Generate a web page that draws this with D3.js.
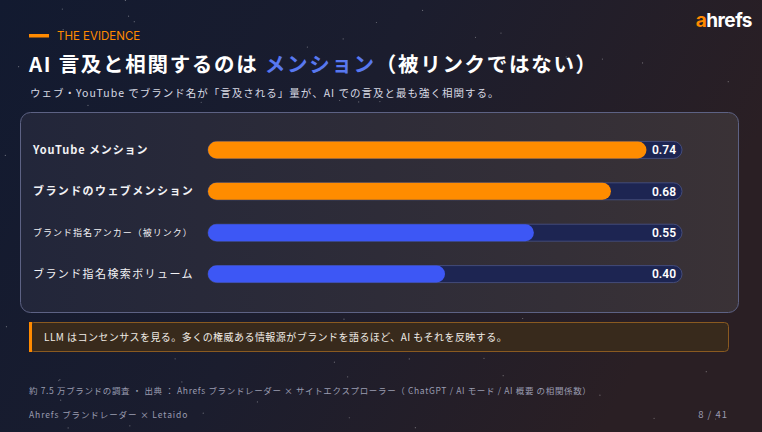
<!DOCTYPE html>
<html><head><meta charset="utf-8">
<script src="https://cdn.jsdelivr.net/npm/d3@7"></script>
<style>
html,body{margin:0;padding:0;background:#151a2c;}
svg{display:block;font-family:"Noto Sans CJK JP","Noto Sans",sans-serif;}
</style></head><body>
<svg id="c" width="762" height="432"></svg>
<script>
const categories = ["YouTube メンション","ブランドのウェブメンション","ブランド指名アンカー（被リンク）","ブランド指名検索ボリューム"];
const values = [0.74, 0.68, 0.55, 0.40];
const valueLabels = ["0.74","0.68","0.55","0.40"];
const seriesGroup = ["mention","mention","link","link"];
const domainMax = 0.8;

const svg = d3.select("#c");
const defs = svg.append("defs");
const bg = defs.append("linearGradient").attr("id","bg").attr("x1","0").attr("y1","0").attr("x2","1").attr("y2","0.3");
bg.append("stop").attr("offset","0").attr("stop-color","#121a30");
bg.append("stop").attr("offset","0.5").attr("stop-color","#1b1d2e");
bg.append("stop").attr("offset","1").attr("stop-color","#2a1f24");
svg.append("rect").attr("width",762).attr("height",432).attr("fill","url(#bg)");

const panelG = defs.append("linearGradient").attr("id","pg").attr("x1","0").attr("y1","0").attr("x2","1").attr("y2","0");
panelG.append("stop").attr("offset","0").attr("stop-color","#22263a");
panelG.append("stop").attr("offset","1").attr("stop-color","#3a3236");

// stars (deterministic texture)
const starG = svg.append("g");
let s = 7;
for (let i=0;i<90;i++){ s=(s*9301+49297)%233280; const sx=s/233280*762; s=(s*9301+49297)%233280; const sy=s/233280*432;
  starG.append("circle").attr("cx",sx).attr("cy",sy).attr("r",0.6).attr("fill","#ffffff").attr("opacity",0.35);}

// header
svg.append("rect").attr("x",29).attr("y",34).attr("width",20).attr("height",3.5).attr("fill","#ff8a00");
svg.append("text").attr("x",57).attr("y",40).attr("fill","#ff8a00").attr("font-size",11.5).attr("font-family","Inter,'Noto Sans',sans-serif").text("THE EVIDENCE");
const t = svg.append("text").attr("x",29).attr("y",72).attr("font-size",20.5).attr("font-weight","bold").attr("fill","#ffffff").attr("letter-spacing",1.7);
t.append("tspan").text("AI 言及と相関するのは ");
t.append("tspan").attr("fill","#5878f0").text("メンション");
t.append("tspan").text("（被リンクではない）");
svg.append("text").attr("x",30).attr("y",97).attr("font-size",10.5).attr("fill","#d8dae4").attr("letter-spacing",1).text("ウェブ・YouTube でブランド名が「言及される」量が、AI での言及と最も強く相関する。");
const logo = svg.append("text").attr("x",752).attr("y",27).attr("text-anchor","end").attr("font-size",19).attr("font-weight","bold").attr("font-family","Inter,'Noto Sans',sans-serif").attr("fill","#ffffff").attr("letter-spacing",-0.5);
logo.append("tspan").attr("fill","#ff8a00").text("a");
logo.append("tspan").text("hrefs");

// panel
svg.append("rect").attr("x",20.5).attr("y",112.5).attr("width",718).attr("height",200).attr("rx",10)
  .attr("fill","url(#pg)").attr("stroke","#5d6284").attr("stroke-width",1);

const x = d3.scaleLinear().domain([0, domainMax]).range([208, 682]);
const y = d3.scaleBand().domain(categories).range([129, 295]).paddingInner(0.59).paddingOuter(0.3);
const colors = {mention:"#ff8c00", link:"#3d57f5"};
const labelStyle = [{fs:11,fw:"bold",ls:0.9},{fs:11,fw:"bold",ls:1.4},{fs:9,fw:"normal",ls:1},{fs:11,fw:"normal",ls:1.4}];

const rows = svg.append("g").selectAll("g").data(categories).join("g");
rows.append("rect").attr("x",x(0)).attr("y",d=>y(d)).attr("width",x(domainMax)-x(0)).attr("height",y.bandwidth())
  .attr("rx",y.bandwidth()/2).attr("fill","#1d2552").attr("stroke","#4a5488").attr("stroke-width",0.8);
rows.append("rect").attr("x",x(0)).attr("y",(d)=>y(d)).attr("width",(d,i)=>x(values[i])-x(0)).attr("height",y.bandwidth())
  .attr("rx",y.bandwidth()/2).attr("fill",(d,i)=>colors[seriesGroup[i]]);
rows.append("text").attr("x",x(domainMax)-6).attr("y",d=>y(d)+y.bandwidth()/2).attr("dy","0.36em").attr("text-anchor","end")
  .attr("fill","#ffffff").attr("font-size",12).attr("font-weight",600).attr("font-family","Roboto,'Noto Sans',sans-serif").text((d,i)=>valueLabels[i]);
rows.append("text").attr("x",33).attr("y",d=>y(d)+y.bandwidth()/2).attr("dy","0.36em")
  .attr("fill","#f2f2f5").attr("font-size",(d,i)=>labelStyle[i].fs).attr("font-weight",(d,i)=>labelStyle[i].fw)
  .attr("letter-spacing",(d,i)=>labelStyle[i].ls).text(d=>d);

// callout
svg.append("rect").attr("x",29.5).attr("y",322.5).attr("width",699).attr("height",29).attr("rx",4)
  .attr("fill","#382a1c").attr("stroke","#8a5a20").attr("stroke-width",1);
svg.append("rect").attr("x",29).attr("y",322).attr("width",3).attr("height",30).attr("fill","#ff8a00");
svg.append("text").attr("x",44).attr("y",341).attr("font-size",10).attr("fill","#f0ece6").attr("letter-spacing",0.45).text("LLM はコンセンサスを見る。多くの権威ある情報源がブランドを語るほど、AI もそれを反映する。");

// footer
svg.append("text").attr("x",29).attr("y",394).attr("font-size",8.5).attr("fill","#9a9cb0").attr("letter-spacing",0.65).text("約 7.5 万ブランドの調査 ・ 出典 ： Ahrefs ブランドレーダー × サイトエクスプローラー（ ChatGPT / AI モード / AI 概要 の相関係数）");
svg.append("text").attr("x",29).attr("y",418).attr("font-size",8.5).attr("fill","#9a9cb0").attr("letter-spacing",0.9).text("Ahrefs ブランドレーダー × Letaido");
svg.append("text").attr("x",728).attr("y",418).attr("text-anchor","end").attr("font-size",9.5).attr("fill","#9a9cb0").attr("letter-spacing",1).text("8 / 41");
</script></body></html>
